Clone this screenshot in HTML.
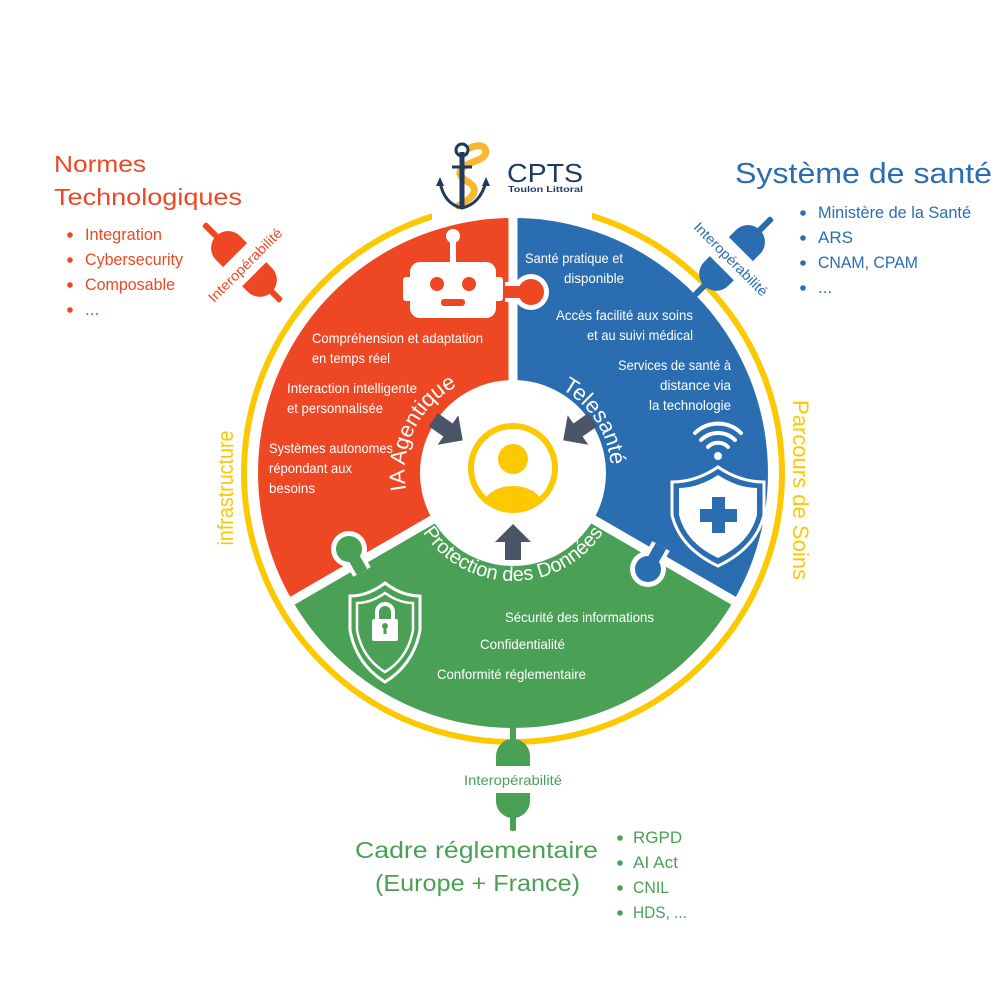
<!DOCTYPE html>
<html><head><meta charset="utf-8"><style>
html,body{margin:0;padding:0;background:#fff;}
svg{display:block;}
.n{font-family:"Liberation Sans Narrow","Liberation Sans",sans-serif;}
.s{font-family:"Liberation Sans",sans-serif;}
</style></head><body>
<svg width="1000" height="1000" viewBox="0 0 1000 1000" xmlns="http://www.w3.org/2000/svg">
<defs>
<path id="pIA" d="M406.6,491.8 A97 97 0 0 1 513,376"/>
<path id="pTele" d="M561.5,389 A97 97 0 0 1 611,480"/>
<path id="pProt" d="M415.1,518.6 A108 108 0 0 0 610.9,518.6"/>
<clipPath id="cp"><circle cx="513" cy="468" r="40"/></clipPath>
</defs>
<circle cx="513" cy="473" r="269" fill="none" stroke="#fcc800" stroke-width="6"/>
<rect x="432" y="190" width="160" height="35" fill="#fff"/>
<path d="M513,473 L513,218 A255 255 0 0 0 292.2,600.5 Z" fill="#ee4723"/>
<path d="M513,473 L513,218 A255 255 0 0 1 733.8,600.5 Z" fill="#2a6db0"/>
<path d="M513,473 L733.8,600.5 A255 255 0 0 1 292.2,600.5 Z" fill="#4aa055"/>
<g stroke="#fff" stroke-width="9">
<line x1="513" y1="473" x2="513" y2="210"/>
<line x1="513" y1="473" x2="285" y2="605"/>
<line x1="513" y1="473" x2="741" y2="605"/>
</g>
<circle cx="531" cy="292" r="18" fill="#fff"/><line x1="505" y1="292" x2="531" y2="292" stroke="#fff" stroke-width="20"/>
<circle cx="531" cy="292" r="13" fill="#ee4723"/><line x1="505" y1="292" x2="531" y2="292" stroke="#ee4723" stroke-width="12"/>
<circle cx="349" cy="549" r="18" fill="#fff"/><line x1="362" y1="572" x2="349" y2="549" stroke="#fff" stroke-width="20"/>
<circle cx="349" cy="549" r="13" fill="#4aa055"/><line x1="362" y1="572" x2="349" y2="549" stroke="#4aa055" stroke-width="12"/>
<circle cx="648" cy="569" r="18" fill="#fff"/><line x1="661" y1="546" x2="648" y2="569" stroke="#fff" stroke-width="20"/>
<circle cx="648" cy="569" r="13" fill="#2a6db0"/><line x1="661" y1="546" x2="648" y2="569" stroke="#2a6db0" stroke-width="12"/>
<circle cx="513" cy="473" r="93" fill="#fff"/>
<circle cx="513" cy="468" r="42" fill="none" stroke="#fcc800" stroke-width="6"/>
<circle cx="513" cy="459" r="15" fill="#fcc800"/>
<ellipse cx="513" cy="508" rx="31" ry="22" fill="#fcc800" clip-path="url(#cp)"/>
<g fill="#4a5568">
<polygon transform="translate(448,430) rotate(35)" points="-18,-8 0,-8 0,-18 18,0 0,18 0,8 -18,8"/>
<polygon transform="translate(578,430) rotate(145)" points="-18,-8 0,-8 0,-18 18,0 0,18 0,8 -18,8"/>
<polygon transform="translate(513,542) rotate(-90)" points="-18,-8 0,-8 0,-18 18,0 0,18 0,8 -18,8"/>
</g>
<text class="n" font-size="22" fill="#fff"><textPath href="#pIA" startOffset="2">IA Agentique</textPath></text>
<text class="n" font-size="22" fill="#fff"><textPath href="#pTele" startOffset="0">Telesanté</textPath></text>
<text class="n" font-size="20" fill="#fff" text-anchor="middle"><textPath href="#pProt" startOffset="50%">Protection des Données</textPath></text>
<g fill="#fff">
<rect x="410" y="262" width="86" height="56" rx="10"/>
<rect x="403" y="277" width="10" height="24" rx="3"/><rect x="493" y="277" width="10" height="24" rx="3"/>
<rect x="450" y="240" width="6" height="24"/><circle cx="453" cy="236" r="7"/>
</g>
<circle cx="437" cy="284" r="7" fill="#ee4723"/><circle cx="469" cy="284" r="7" fill="#ee4723"/>
<rect x="441" y="299" width="24" height="7" rx="3" fill="#ee4723"/>
<g fill="none" stroke="#fff" stroke-width="4" stroke-linecap="round">
<path d="M708,447 A14 14 0 0 1 728,447"/><path d="M701,440 A24 24 0 0 1 735,440"/><path d="M695,433 A33 33 0 0 1 741,433"/>
</g>
<circle cx="718" cy="456" r="4" fill="#fff"/>
<path d="M718,467 Q696,482 672,482 V515 Q680,548 718,566 Q756,548 764,515 V482 Q740,482 718,467 Z" fill="none" stroke="#fff" stroke-width="3"/>
<path d="M718,475 Q698,488 679,488 V515 Q686,543 718,558 Q750,543 757,515 V488 Q738,488 718,475 Z" fill="#fff"/>
<rect x="712" y="497" width="13" height="36" fill="#2a6db0"/><rect x="700" y="509" width="37" height="13" fill="#2a6db0"/>
<path d="M385,583 Q368,596 350,596 V630 Q356,664 385,682 Q414,664 420,630 V596 Q402,596 385,583 Z" fill="none" stroke="#fff" stroke-width="3"/>
<path d="M385,593 Q371,603 357,603 V630 Q362,658 385,672 Q408,658 413,630 V603 Q399,603 385,593 Z" fill="none" stroke="#fff" stroke-width="2.5"/>
<path d="M377,620 V612 A8 8 0 0 1 393,612 V620" fill="none" stroke="#fff" stroke-width="4"/>
<rect x="372" y="619" width="26" height="22" rx="2" fill="#fff"/>
<rect x="383.5" y="625" width="3" height="9" fill="#4aa055"/><circle cx="385" cy="626" r="3" fill="#4aa055"/>
<g class="n" font-size="14" fill="#fff">
<text x="312" y="343" textLength="171" lengthAdjust="spacingAndGlyphs">Compréhension et adaptation</text>
<text x="312" y="363" textLength="78" lengthAdjust="spacingAndGlyphs">en temps réel</text>
<text x="287" y="393" textLength="130" lengthAdjust="spacingAndGlyphs">Interaction intelligente</text>
<text x="287" y="413" textLength="96" lengthAdjust="spacingAndGlyphs">et personnalisée</text>
<text x="269" y="453" textLength="124" lengthAdjust="spacingAndGlyphs">Systèmes autonomes</text>
<text x="269" y="473" textLength="83" lengthAdjust="spacingAndGlyphs">répondant aux</text>
<text x="269" y="493" textLength="46" lengthAdjust="spacingAndGlyphs">besoins</text>
<text x="525" y="263" textLength="98" lengthAdjust="spacingAndGlyphs">Santé pratique et</text>
<text x="564" y="283" textLength="60" lengthAdjust="spacingAndGlyphs">disponible</text>
<text x="556" y="320" textLength="137" lengthAdjust="spacingAndGlyphs">Accès facilité aux soins</text>
<text x="587" y="340" textLength="106" lengthAdjust="spacingAndGlyphs">et au suivi médical</text>
<text x="618" y="370" textLength="113" lengthAdjust="spacingAndGlyphs">Services de santé à</text>
<text x="660" y="390" textLength="71" lengthAdjust="spacingAndGlyphs">distance via</text>
<text x="649" y="410" textLength="82" lengthAdjust="spacingAndGlyphs">la technologie</text>
<text x="505" y="622" textLength="149" lengthAdjust="spacingAndGlyphs">Sécurité des informations</text>
<text x="480" y="649" textLength="85" lengthAdjust="spacingAndGlyphs">Confidentialité</text>
<text x="437" y="679" textLength="149" lengthAdjust="spacingAndGlyphs">Conformité réglementaire</text>
</g>
<text class="n" font-size="22" fill="#fcc800" transform="translate(233,488) rotate(-90)" text-anchor="middle" textLength="115" lengthAdjust="spacingAndGlyphs">infrastructure</text>
<text class="n" font-size="22" fill="#fcc800" transform="translate(793,490) rotate(90)" text-anchor="middle" textLength="180" lengthAdjust="spacingAndGlyphs">Parcours de Soins</text>
<g transform="translate(513,780)" fill="#4aa055">
<rect x="-3" y="-58" width="6" height="18" rx="2"/>
<path d="M-17,-14 V-24 A17,17 0 0 1 17,-24 V-14 Z"/>
<path d="M-17,13 H17 V21 A17,17 0 0 1 -17,21 Z"/>
<rect x="-3" y="36" width="6" height="15" rx="2"/>
<text class="n" font-size="14" y="5" x="-49" textLength="98" lengthAdjust="spacingAndGlyphs">Interopérabilité</text>
</g>
<g transform="translate(245,265) rotate(-45)" fill="#ee4723">
<rect x="-3" y="-58" width="6" height="18" rx="2"/>
<path d="M-17,-14 V-24 A17,17 0 0 1 17,-24 V-14 Z"/>
<path d="M-17,13 H17 V21 A17,17 0 0 1 -17,21 Z"/>
<rect x="-3" y="36" width="6" height="15" rx="2"/>
<text class="n" font-size="14" y="5" x="-49" textLength="98" lengthAdjust="spacingAndGlyphs">Interopérabilité</text>
</g>
<g transform="translate(731,259) rotate(45)" fill="#2a6db0">
<rect x="-3" y="-58" width="6" height="18" rx="2"/>
<path d="M-17,-14 V-24 A17,17 0 0 1 17,-24 V-14 Z"/>
<path d="M-17,13 H17 V21 A17,17 0 0 1 -17,21 Z"/>
<rect x="-3" y="36" width="6" height="15" rx="2"/>
<text class="n" font-size="14" y="5" x="-49" textLength="98" lengthAdjust="spacingAndGlyphs">Interopérabilité</text>
</g>
<g>
<path d="M470,148 C486,140 492,155 478,160 C462,166 452,172 468,182 C482,190 470,200 458,206" fill="none" stroke="#f5b82e" stroke-width="7" stroke-linecap="round"/>
<line x1="462" y1="152" x2="462" y2="208" stroke="#1f3a5f" stroke-width="5"/>
<circle cx="462" cy="150" r="6" fill="none" stroke="#1f3a5f" stroke-width="3"/>
<line x1="452" y1="167" x2="472" y2="167" stroke="#1f3a5f" stroke-width="3"/>
<path d="M440,182 Q444,204 462,208 Q480,204 486,182" fill="none" stroke="#1f3a5f" stroke-width="3"/>
<polygon points="436,186 444,186 440,177" fill="#1f3a5f"/><polygon points="482,186 490,186 486,177" fill="#1f3a5f"/>
<text class="s" x="507" y="182" font-size="26" fill="#1f3a5f" textLength="76" lengthAdjust="spacingAndGlyphs">CPTS</text>
<text class="s" x="508" y="192" font-size="8.5" font-weight="bold" fill="#1f3a5f" textLength="75" lengthAdjust="spacingAndGlyphs">Toulon Littoral</text>
</g>
<g class="n" fill="#ee4723">
<text x="54" y="172" font-size="23" textLength="92" lengthAdjust="spacingAndGlyphs">Normes</text>
<text x="54" y="205" font-size="23" textLength="188" lengthAdjust="spacingAndGlyphs">Technologiques</text>
<g font-size="17">
<text x="85" y="240" textLength="77" lengthAdjust="spacingAndGlyphs">Integration</text><text x="85" y="265" textLength="98" lengthAdjust="spacingAndGlyphs">Cybersecurity</text><text x="85" y="290" textLength="90" lengthAdjust="spacingAndGlyphs">Composable</text><text x="85" y="315">...</text>
</g>
<circle cx="70" cy="235" r="2.8"/><circle cx="70" cy="260" r="2.8"/><circle cx="70" cy="285" r="2.8"/><circle cx="70" cy="310" r="2.8"/>
</g>
<g class="n" fill="#2a6db0">
<text x="735" y="183" font-size="29" textLength="257" lengthAdjust="spacingAndGlyphs">Système de santé</text>
<g font-size="17">
<text x="818" y="218" textLength="153" lengthAdjust="spacingAndGlyphs">Ministère de la Santé</text><text x="818" y="243">ARS</text><text x="818" y="268" textLength="100" lengthAdjust="spacingAndGlyphs">CNAM, CPAM</text><text x="818" y="293">...</text>
</g>
<circle cx="803" cy="213" r="2.8"/><circle cx="803" cy="238" r="2.8"/><circle cx="803" cy="263" r="2.8"/><circle cx="803" cy="288" r="2.8"/>
</g>
<g class="n" fill="#4aa055">
<text x="355" y="858" font-size="23" textLength="243" lengthAdjust="spacingAndGlyphs">Cadre réglementaire</text>
<text x="375" y="891" font-size="23" textLength="205" lengthAdjust="spacingAndGlyphs">(Europe + France)</text>
<g font-size="17">
<text x="633" y="843">RGPD</text><text x="633" y="868" textLength="45" lengthAdjust="spacingAndGlyphs">AI Act</text><text x="633" y="893" textLength="36" lengthAdjust="spacingAndGlyphs">CNIL</text><text x="633" y="918" textLength="54" lengthAdjust="spacingAndGlyphs">HDS, ...</text>
</g>
<circle cx="620" cy="838" r="2.8"/><circle cx="620" cy="863" r="2.8"/><circle cx="620" cy="888" r="2.8"/><circle cx="620" cy="913" r="2.8"/>
</g>
</svg>
</body></html>
